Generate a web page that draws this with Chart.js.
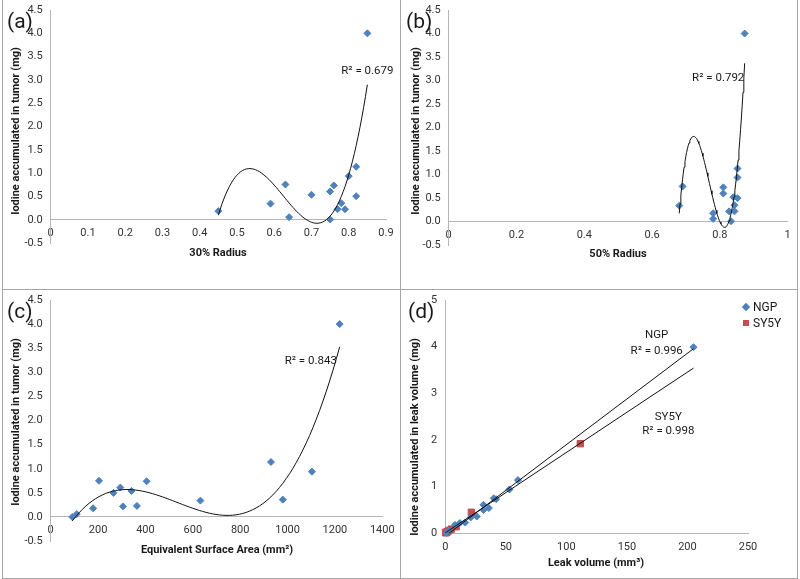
<!DOCTYPE html>
<html lang="en">
<head>
  <meta charset="UTF-8">
  <title>Iodine accumulation scatter plots</title>
  <script src="https://cdn.jsdelivr.net/npm/chart.js"></script>
  <style>
    body {
      margin: 0;
      background: #fff;
      font-family: Roboto, sans-serif;
      color: #1a1a1a;
    }
    .frame {
      position: relative;
      width: 800px;
      height: 579px;
      overflow: hidden;
    }
    .panel {
      position: absolute;
      width: 400px;
    }
    .rule {
      position: absolute;
      background: #a6a6a6;
    }
    .tag {
      position: absolute;
      font-size: 21px;
      line-height: 22px;
    }
    .xtitle, .ytitle {
      position: absolute;
      font-size: 11px;
      font-weight: bold;
      white-space: nowrap;
    }
    .xtitle { transform: translate(-50%, -50%); }
    .ytitle { transform: translate(-50%, -50%) rotate(-90deg); }
    .key {
      position: absolute;
      font-size: 12px;
      line-height: 14px;
    }
    .key i {
      display: inline-block;
      width: 6px;
      height: 6px;
      margin-right: 4px;
      vertical-align: 1px;
    }
  </style>
</head>
<body>
  <div class="frame">
    <div class="panel" style="left:0;top:0;height:289px"><canvas id="chartA"></canvas></div>
    <div class="panel" style="left:400px;top:0;height:289px"><canvas id="chartB"></canvas></div>
    <div class="panel" style="left:0;top:289px;height:290px"><canvas id="chartC"></canvas></div>
    <div class="panel" style="left:400px;top:289px;height:290px"><canvas id="chartD"></canvas></div>

    <div class="rule" style="left:2px;top:0;width:1px;height:579px"></div>
    <div class="rule" style="left:400px;top:0;width:1px;height:579px"></div>
    <div class="rule" style="left:797px;top:0;width:1px;height:579px"></div>
    <div class="rule" style="left:2px;top:289px;width:796px;height:1px"></div>
    <div class="rule" style="left:2px;top:578px;width:796px;height:1px"></div>

    <div class="tag" style="left:7px;top:10px">(a)</div>
    <div class="tag" style="left:406px;top:10px">(b)</div>
    <div class="tag" style="left:7px;top:300px">(c)</div>
    <div class="tag" style="left:408px;top:300px">(d)</div>

    <div class="ytitle" style="left:15px;top:131px">Iodine accumulated in tumor (mg)</div>
    <div class="ytitle" style="left:415px;top:131px">Iodine accumulated in tumor (mg)</div>
    <div class="ytitle" style="left:15px;top:422px">Iodine accumulated in tumor (mg)</div>
    <div class="ytitle" style="left:414px;top:437px">Iodine accumulated in leak volume (mg)</div>

    <div class="xtitle" style="left:218px;top:252px">30% Radius</div>
    <div class="xtitle" style="left:618px;top:253px">50% Radius</div>
    <div class="xtitle" style="left:217px;top:549px">Equivalent Surface Area (mm²)</div>
    <div class="xtitle" style="left:596px;top:562px">Leak volume (mm³)</div>

    <div class="key" style="left:743px;top:300px"><i style="background:#4f81bd;transform:rotate(45deg)"></i>NGP</div>
    <div class="key" style="left:743px;top:316px"><i style="background:#c0504d"></i>SY5Y</div>
  </div>

  <script>
    // (a) 30% radius vs iodine in tumor
    const radius30 = [0.45, 0.59, 0.63, 0.64, 0.70, 0.75, 0.75, 0.76, 0.77, 0.78, 0.79, 0.80, 0.82, 0.82, 0.85];
    const iodine30 = [0.19, 0.35, 0.76, 0.06, 0.54, 0.61, 0.01, 0.74, 0.23, 0.36, 0.23, 0.94, 1.14, 0.51, 4.00];

    // (b) 50% radius vs iodine in tumor
    const radius50 = [0.68, 0.69, 0.78, 0.78, 0.81, 0.81, 0.827, 0.833, 0.84, 0.843, 0.843, 0.852, 0.852, 0.852, 0.873];
    const iodine50 = [0.34, 0.75, 0.18, 0.06, 0.73, 0.60, 0.22, 0.01, 0.52, 0.35, 0.22, 0.50, 0.94, 1.13, 4.00];

    // (c) equivalent surface area vs iodine in tumor
    const surfaceArea = [91, 110, 179, 204, 265, 294, 305, 341, 364, 405, 632, 930, 980, 1103, 1220];
    const iodineArea = [0.00, 0.06, 0.18, 0.75, 0.50, 0.61, 0.22, 0.54, 0.23, 0.74, 0.34, 1.14, 0.36, 0.94, 4.00];

    // (d) leak volume vs iodine in leak volume
    const ngpLeak = [205, 60, 53, 40, 42, 31.5, 36, 31.5, 26, 21, 16.5, 12, 8, 3, 1];
    const ngpIodine = [3.99, 1.14, 0.94, 0.75, 0.73, 0.61, 0.54, 0.50, 0.36, 0.34, 0.23, 0.22, 0.18, 0.06, 0.01];
    const sy5yLeak = [111.5, 21.5, 9, 5, 3, 2, 1.5, 1, 0.5, 0.3];
    const sy5yIodine = [1.92, 0.45, 0.14, 0.09, 0.06, 0.04, 0.03, 0.02, 0.01, 0.02];

    // tick labels
    const ticks30 = [0, 0.1, 0.2, 0.3, 0.4, 0.5, 0.6, 0.7, 0.8, 0.9];
    const ticks50 = [0, 0.2, 0.4, 0.6, 0.8, 1];
    const ticksArea = [0, 200, 400, 600, 800, 1000, 1200, 1400];
    const ticksLeak = [0, 50, 100, 150, 200, 250];
    const ticksTumorY = [-0.5, 0, 0.5, 1, 1.5, 2, 2.5, 3, 3.5, 4, 4.5];
    const ticksLeakY = [0, 1, 2, 3, 4, 5];

    const FONT = 'Roboto, sans-serif';
    const BLUE = '#4f81bd';
    const RED = '#c0504d';
    const AXIS = '#b5b5b5';

    // least squares polynomial trendline, x scaled to 0..1 to keep it stable
    function trend(xs, ys, deg, from, to, steps) {
      const x0 = Math.min(...xs), span = Math.max(...xs) - x0;
      const n = deg + 1;
      const A = Array.from({ length: n }, () => new Array(n + 1).fill(0));
      xs.forEach((x, k) => {
        const t = (x - x0) / span;
        for (let i = 0; i < n; i++) {
          for (let j = 0; j < n; j++) A[i][j] += Math.pow(t, i + j);
          A[i][n] += ys[k] * Math.pow(t, i);
        }
      });
      for (let c = 0; c < n; c++) {
        let p = c;
        for (let r = c + 1; r < n; r++) if (Math.abs(A[r][c]) > Math.abs(A[p][c])) p = r;
        [A[c], A[p]] = [A[p], A[c]];
        for (let r = 0; r < n; r++) {
          if (r === c) continue;
          const f = A[r][c] / A[c][c];
          for (let k = c; k <= n; k++) A[r][k] -= f * A[c][k];
        }
      }
      const coef = A.map((row, i) => row[n] / row[i]);
      const pts = [];
      for (let s = 0; s <= steps; s++) {
        const x = from + (to - from) * s / steps;
        const t = (x - x0) / span;
        pts.push({ x, y: coef.reduce((sum, c, i) => sum + c * Math.pow(t, i), 0) });
      }
      return pts;
    }

    const pairs = (xs, ys) => xs.map((x, i) => ({ x, y: ys[i] }));

    const dots = (xs, ys, color, style, r) => ({
      data: pairs(xs, ys),
      backgroundColor: color,
      borderColor: color,
      borderWidth: 1,
      pointStyle: style,
      pointRadius: r,
      clip: false,
      order: 1
    });

    const fitLine = pts => ({
      type: 'line',
      data: pts,
      borderColor: '#111',
      borderWidth: 1,
      pointRadius: 0,
      fill: false,
      order: 0
    });

    const notes = {
      id: 'notes',
      afterDatasetsDraw(chart, args, opts) {
        const { ctx, scales: { x, y } } = chart;
        ctx.save();
        ctx.font = '11.5px ' + FONT;
        ctx.fillStyle = '#1a1a1a';
        ctx.textAlign = 'center';
        ctx.textBaseline = 'middle';
        (opts.items || []).forEach(n => {
          ctx.fillText(n.text, x.getPixelForValue(n.x), y.getPixelForValue(n.y));
        });
        ctx.restore();
      }
    };

    function panel(id, p) {
      const W = 400, H = p.h;
      return new Chart(document.getElementById(id), {
        type: 'scatter',
        data: { datasets: p.datasets },
        plugins: [notes],
        options: {
          responsive: true,
          maintainAspectRatio: false,
          animation: false,
          layout: {
            padding: { left: 6, top: p.area[1], right: W - p.area[2], bottom: H - p.area[3] }
          },
          plugins: {
            legend: { display: false },
            tooltip: { enabled: false },
            notes: { items: p.notes }
          },
          scales: {
            x: {
              type: 'linear',
              position: { y: 0 },
              min: p.xTicks[0],
              max: p.xTicks[p.xTicks.length - 1],
              afterBuildTicks: s => { s.ticks = p.xTicks.map(v => ({ value: v })); },
              afterFit: s => { s.paddingLeft = 0; s.paddingRight = 0; },
              grid: { display: false, drawTicks: false },
              border: { display: true, color: AXIS, width: 1 },
              ticks: {
                padding: 7,
                maxRotation: 0,
                autoSkip: false,
                color: '#333',
                font: { family: FONT, size: 11 },
                callback: v => String(v)
              }
            },
            y: {
              type: 'linear',
              min: p.yTicks[0],
              max: p.yTicks[p.yTicks.length - 1],
              afterBuildTicks: s => { s.ticks = p.yTicks.map(v => ({ value: v })); },
              afterFit: s => { s.width = p.area[0] - 6; s.paddingTop = 0; s.paddingBottom = 0; },
              grid: { display: false, drawTicks: false },
              border: { display: true, color: AXIS, width: 1 },
              ticks: {
                padding: 8,
                autoSkip: false,
                color: '#333',
                font: { family: FONT, size: 11 },
                callback: p.yLabel
              }
            }
          }
        }
      });
    }

    const oneDecimal = v => v.toFixed(1);

    panel('chartA', {
      h: 289,
      area: [50.7, 10, 386, 243.3],
      xTicks: ticks30,
      yTicks: ticksTumorY,
      yLabel: oneDecimal,
      datasets: [
        dots(radius30, iodine30, BLUE, 'rectRot', 3.5),
        fitLine(trend(radius30, iodine30, 3, 0.45, 0.85, 80))
      ],
      notes: [{ text: 'R² = 0.679', x: 0.85, y: 3.2 }]
    });

    panel('chartB', {
      h: 289,
      area: [48.7, 10, 387.7, 245.2],
      xTicks: ticks50,
      yTicks: ticksTumorY,
      yLabel: oneDecimal,
      datasets: [
        dots(radius50, iodine50, BLUE, 'rectRot', 3.5),
        fitLine(trend(radius50, iodine50, 3, 0.68, 0.873, 80))
      ],
      notes: [{ text: 'R² = 0.792', x: 0.795, y: 3.05 }]
    });

    panel('chartC', {
      h: 290,
      area: [50.7, 11, 382.3, 252.1],
      xTicks: ticksArea,
      yTicks: ticksTumorY,
      yLabel: oneDecimal,
      datasets: [
        dots(surfaceArea, iodineArea, BLUE, 'rectRot', 3.5),
        fitLine(trend(surfaceArea, iodineArea, 3, 91, 1220, 80))
      ],
      notes: [{ text: 'R² = 0.843', x: 1098, y: 3.23 }]
    });

    panel('chartD', {
      h: 290,
      area: [45.3, 11, 348, 244.3],
      xTicks: ticksLeak,
      yTicks: ticksLeakY,
      yLabel: v => String(v),
      datasets: [
        dots(ngpLeak, ngpIodine, BLUE, 'rectRot', 3.5),
        dots(sy5yLeak, sy5yIodine, RED, 'rect', 4.5),
        fitLine(trend(ngpLeak, ngpIodine, 1, 0, 205, 1)),
        fitLine(trend(sy5yLeak, sy5yIodine, 1, 0, 205, 1))
      ],
      notes: [
        { text: 'NGP', x: 174.6, y: 4.24 },
        { text: 'R² = 0.996', x: 174.6, y: 3.91 },
        { text: 'SY5Y', x: 184.2, y: 2.5 },
        { text: 'R² = 0.998', x: 184.2, y: 2.2 }
      ]
    });
  </script>
</body>
</html>
